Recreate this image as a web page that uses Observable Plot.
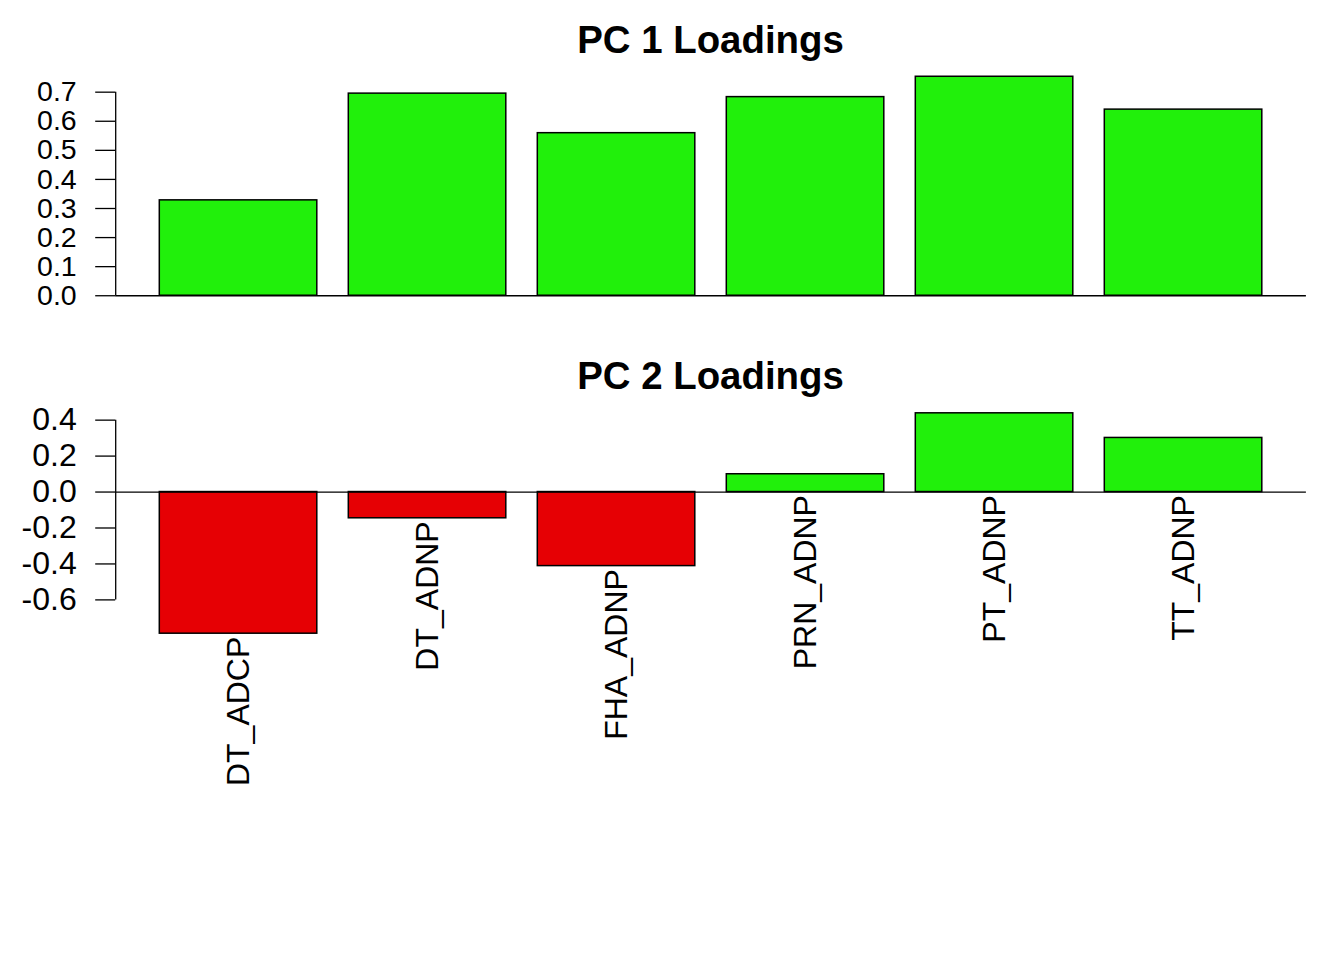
<!DOCTYPE html>
<html>
<head>
<meta charset="utf-8">
<script src="https://cdn.jsdelivr.net/npm/d3@7"></script>
<script src="https://cdn.jsdelivr.net/npm/@observablehq/plot@0.6"></script>
<style>
  html, body { margin: 0; padding: 0; background: white; }
  #wrap { position: relative; width: 1344px; height: 960px; background: white; overflow: hidden;
          font-family: "Liberation Sans", Arial, Helvetica, sans-serif; color: black; }
  .title { position: absolute; text-align: center; font-weight: bold; font-size: 38.4px; line-height: 1; white-space: nowrap; }
  .panel { position: absolute; left: 0; }
</style>
</head>
<body>
<div id="wrap"></div>
<script>
// ---- data ----
const categories = ["DT_ADCP", "DT_ADNP", "FHA_ADNP", "PRN_ADNP", "PT_ADNP", "TT_ADNP"];
const pc1Values = [0.328, 0.695, 0.559, 0.683, 0.753, 0.640];
const pc2Values = [-0.788, -0.146, -0.412, 0.099, 0.438, 0.301];
const pc1Ticks = [0, 0.1, 0.2, 0.3, 0.4, 0.5, 0.6, 0.7];
const pc1TickLabels = ["0.0", "0.1", "0.2", "0.3", "0.4", "0.5", "0.6", "0.7"];
const pc2Ticks = [-0.6, -0.4, -0.2, 0, 0.2, 0.4];
const pc2TickLabels = ["-0.6", "-0.4", "-0.2", "0.0", "0.2", "0.4"];
const panelTitles = ["PC 1 Loadings", "PC 2 Loadings"];
const positiveColor = "#21F00B";
const negativeColor = "#E60004";

// ---- layout (R barplot style: width 1, space 0.2, 4% axis extension) ----
const W = 1344;
const plotLeft = 115.2, plotRight = 1305.9;
const barWidth = 1, barSpace = 0.2;
const fontStack = '"Liberation Sans", Arial, Helvetica, sans-serif';

function barTable(values) {
  return values.map((v, i) => {
    const x1 = barSpace + i * (barWidth + barSpace);
    return {name: categories[i], value: v, x1, x2: x1 + barWidth, mid: x1 + barWidth / 2};
  });
}

function extend(lo, hi) {
  const pad = (hi - lo) * 0.04;
  return [lo - pad, hi + pad];
}

function panel(values, ticks, tickLabels, tickFont, showLabels, height, marginTop, marginBottom) {
  const data = barTable(values);
  const xDomain = extend(data[0].x1, data[data.length - 1].x2);
  const yDomain = extend(Math.min(0, d3.min(values)), Math.max(0, d3.max(values)));
  const marks = [
    Plot.rectY(data, {
      x1: "x1", x2: "x2", y1: 0, y2: "value",
      fill: d => d.value >= 0 ? positiveColor : negativeColor,
      stroke: "black", strokeWidth: 1.5
    }),
    Plot.ruleY([0], {stroke: "black", strokeWidth: 1.3}),
    Plot.ruleX([xDomain[0]], {y1: ticks[0], y2: ticks[ticks.length - 1], stroke: "black", strokeWidth: 1.3}),
    Plot.axisY({
      ticks: ticks,
      tickFormat: (d, i) => tickLabels[i],
      tickSize: 20,
      tickPadding: 19,
      fontSize: tickFont,
      stroke: "black",
      strokeWidth: 1.3,
      fill: "black",
      label: null
    })
  ];
  if (showLabels) {
    marks.push(Plot.text(data, {
      x: "mid",
      y: d => Math.min(0, d.value),
      text: "name",
      rotate: -90,
      textAnchor: "end",
      dy: 3,
      fontSize: 32,
      fill: "black"
    }));
  }
  return Plot.plot({
    width: W,
    height,
    marginLeft: plotLeft,
    marginRight: W - plotRight,
    marginTop,
    marginBottom,
    style: {background: "transparent", fontFamily: fontStack, color: "black", overflow: "visible"},
    x: {type: "linear", domain: xDomain, axis: null},
    y: {type: "linear", domain: yDomain, axis: null},
    marks
  });
}

const wrap = document.getElementById("wrap");

function addTitle(text, top) {
  const t = document.createElement("div");
  t.className = "title";
  t.textContent = text;
  t.style.left = plotLeft + "px";
  t.style.width = (plotRight - plotLeft) + "px";
  t.style.top = top + "px";
  wrap.appendChild(t);
}

function addPanel(svg, top) {
  const d = document.createElement("div");
  d.className = "panel";
  d.style.top = top + "px";
  d.appendChild(svg);
  wrap.appendChild(d);
}

addTitle(panelTitles[0], 20.5);
addPanel(panel(pc1Values, pc1Ticks, pc1TickLabels, 28.5, false, 260, 7.5, 16), 60);
addTitle(panelTitles[1], 356.5);
addPanel(panel(pc2Values, pc2Ticks, pc2TickLabels, 32, true, 400, 6, 156), 398);
</script>
</body>
</html>
